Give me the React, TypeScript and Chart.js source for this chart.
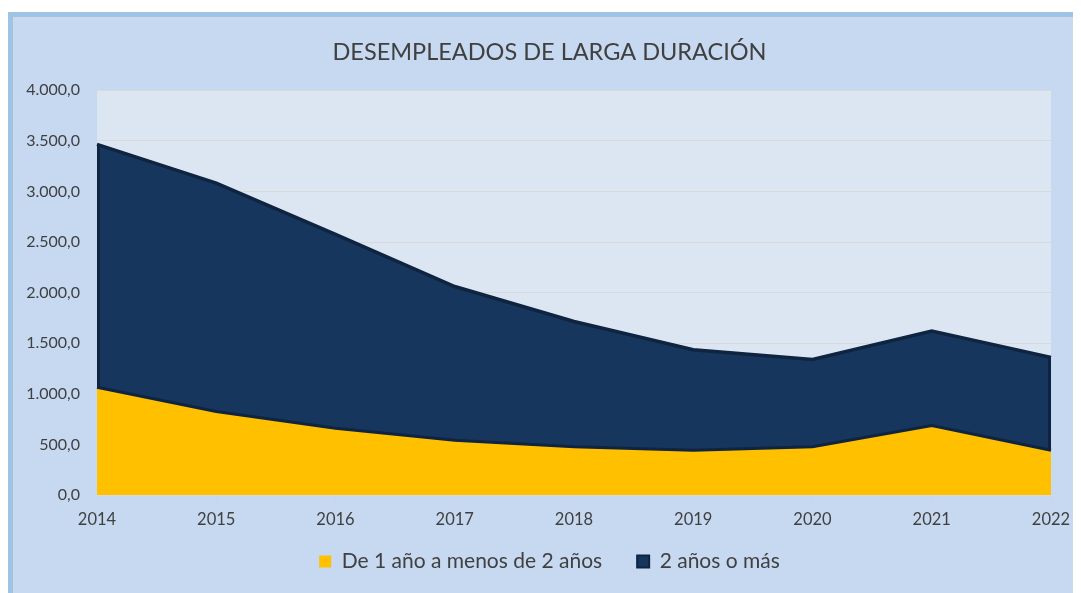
import React, { useEffect, useRef } from "react";
import { Chart, registerables } from "chart.js";

Chart.register(...registerables);

const years = ["2014", "2015", "2016", "2017", "2018", "2019", "2020", "2021", "2022"];
const deUnoADos = [1065, 825, 659, 540, 476, 443, 476, 686, 443];
const dosOMas = [2399, 2256, 1916, 1520, 1239, 993, 864, 934, 917];
const yTicks = [0, 500, 1000, 1500, 2000, 2500, 3000, 3500, 4000];
const titleText = "DESEMPLEADOS DE LARGA DURACIÓN";
const seriesNames = ["De 1 año a menos de 2 años", "2 años o más"];

const YELLOW = "#FFC000";
const NAVY = "#17365D";
const NAVY_EDGE = "#0F2440";
const FONT = "Lato, 'Open Sans', sans-serif";
const TEXT = "#404040";

function fmt(v: number): string {
  const s = Math.round(v).toString();
  const grouped = s.replace(/\B(?=(\d{3})+(?!\d))/g, ".");
  return grouped + ",0";
}

const bgPlugin = {
  id: "bgPlugin",
  beforeDraw(chart: any) {
    const { ctx, chartArea, width, height } = chart;
    ctx.save();
    ctx.fillStyle = "#C6D9F1";
    ctx.fillRect(0, 0, width, height);
    ctx.fillStyle = "#DCE6F2";
    ctx.fillRect(chartArea.left, chartArea.top, chartArea.right - chartArea.left, chartArea.bottom - chartArea.top);
    ctx.restore();
  },
};

const edgePlugin = {
  id: "edgePlugin",
  afterDatasetsDraw(chart: any) {
    const { ctx, scales } = chart;
    const x = scales.x;
    const y = scales.y;
    const last = years.length - 1;
    ctx.save();
    ctx.strokeStyle = NAVY_EDGE;
    ctx.lineWidth = 3;
    [0, last].forEach((i) => {
      const px = x.getPixelForValue(i) + (i === 0 ? 1.5 : -1.5);
      ctx.beginPath();
      ctx.moveTo(px, y.getPixelForValue(deUnoADos[i]));
      ctx.lineTo(px, y.getPixelForValue(deUnoADos[i] + dosOMas[i]));
      ctx.stroke();
    });
    ctx.restore();
  },
};

export default function App() {
  const ref = useRef<HTMLCanvasElement | null>(null);

  useEffect(() => {
    if (!ref.current) return;
    const chart = new Chart(ref.current, {
      type: "line",
      data: {
        labels: years,
        datasets: [
          {
            label: seriesNames[0],
            data: deUnoADos,
            backgroundColor: YELLOW,
            borderColor: NAVY_EDGE,
            borderWidth: 3,
            fill: "origin",
            pointRadius: 0,
            tension: 0,
          },
          {
            label: seriesNames[1],
            data: dosOMas,
            backgroundColor: NAVY,
            borderColor: NAVY_EDGE,
            borderWidth: 3.5,
            fill: "-1",
            pointRadius: 0,
            tension: 0,
          },
        ],
      },
      options: {
        animation: false,
        responsive: false,
        maintainAspectRatio: false,
        layout: { padding: { left: 34, right: 37, top: 0, bottom: 26 } },
        plugins: {
          title: {
            display: true,
            text: titleText,
            color: TEXT,
            font: { family: FONT, size: 23.5, weight: "normal" },
            padding: { top: 20, bottom: 24 },
          },
          legend: {
            position: "bottom",
            labels: {
              color: TEXT,
              font: { family: FONT, size: 21 },
              boxWidth: 12,
              boxHeight: 12,
              padding: 35,
              generateLabels(chart: any) {
                const items = Chart.defaults.plugins.legend.labels.generateLabels(chart);
                items[0].fillStyle = YELLOW;
                items[0].strokeStyle = YELLOW;
                items[0].lineWidth = 0;
                items[1].fillStyle = NAVY;
                items[1].strokeStyle = NAVY_EDGE;
                items[1].lineWidth = 2;
                return items;
              },
            },
          },
          tooltip: { enabled: false },
        },
        scales: {
          x: {
            grid: { display: true, drawOnChartArea: false, drawTicks: true, tickLength: 5, color: "#D0D4DA" },
            border: { display: true, color: "#D9D9D9" },
            ticks: { color: TEXT, font: { family: FONT, size: 16.5 }, padding: 10, maxRotation: 0 },
            afterFit(axis: any) {
              axis.height = 21;
              axis._computeLabelArea = () => undefined;
            },
          },
          y: {
            stacked: true,
            min: 0,
            max: 4000,
            afterBuildTicks(axis: any) {
              axis.ticks = yTicks.map((v) => ({ value: v }));
            },
            grid: { color: "#D9D9D9", drawTicks: false },
            border: { display: false },
            ticks: {
              color: TEXT,
              font: { family: FONT, size: 16 },
              padding: 17,
              callback: (v: any) => fmt(Number(v)),
            },
            afterFit(axis: any) {
              axis.width = 49;
              axis._computeLabelArea = () => undefined;
            },
          },
        },
      },
      plugins: [bgPlugin, edgePlugin],
    });
    return () => chart.destroy();
  }, []);

  return (
    <div style={{ paddingTop: 4, width: 1073, height: 581, overflow: "hidden" }}>
      <div style={{ width: 1076, border: "5px solid #9DC3E6", background: "#C6D9F1" }}>
        <div style={{ border: "1px solid #D3D8DE" }}>
          <canvas ref={ref} width={1074} height={590} style={{ display: "block", width: 1074, height: 590 }} />
        </div>
      </div>
    </div>
  );
}
